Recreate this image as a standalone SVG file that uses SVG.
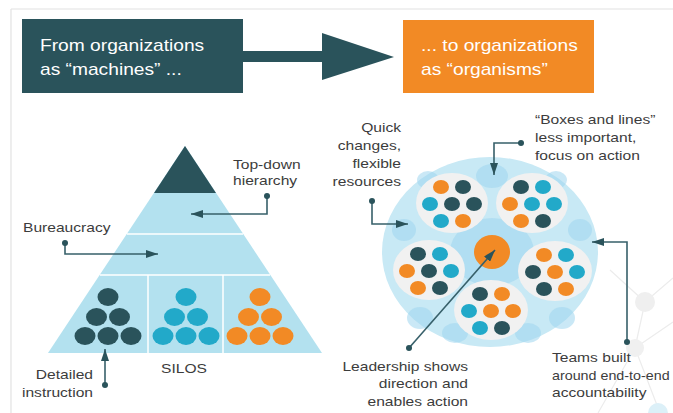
<svg xmlns="http://www.w3.org/2000/svg" width="673" height="413" viewBox="0 0 673 413">
<defs>
<style>
.lbl{font-family:"Liberation Sans",Arial,sans-serif;font-size:13px;fill:#3c3c3c}
.ban{font-family:"Liberation Sans",Arial,sans-serif;font-size:16px;fill:#ffffff}
.con{fill:none;stroke:#37606a;stroke-width:1.6}
.dot{fill:#2a535b}
.dk{fill:#2a535b}
.cy{fill:#22a9c9}
.or{fill:#f28a25}
.disc{fill:#f1f1f1}
.blob{fill:#9fd6ef;opacity:0.55}
.net{stroke:#ececec;stroke-width:1.2;fill:none}
</style>
<marker id="ah" viewBox="0 0 12 8" refX="12" refY="4" markerWidth="12" markerHeight="8" markerUnits="userSpaceOnUse" orient="auto">
<path d="M0,0 L12,4 L0,8 Z" fill="#2a535b"/>
</marker>
</defs>
<rect width="673" height="413" fill="#ffffff"/>
<g id="frame">
<line x1="11" y1="9" x2="673" y2="9" stroke="#e2e2e2" stroke-width="1.2"/>
<line x1="11" y1="9" x2="11" y2="413" stroke="#e2e2e2" stroke-width="1.2"/>
</g>
<g id="network-bg">
<path class="net" d="M645,302 L673,278 M645,302 L635,348 M635,348 L598,413 M635,348 L673,322 M635,348 L660,413 M645,302 L610,270"/>
<circle cx="645" cy="302" r="10" fill="#efefef"/>
<circle cx="635" cy="348" r="9" fill="#f0f0f0"/>
<circle cx="658" cy="413" r="10" fill="#dcf0f8"/>
</g>
<g id="from-box">
<rect x="22" y="19" width="221" height="74" fill="#2a535b"/>
<g transform="translate(40,51) scale(1.2,1)"><text class="ban"><tspan x="0" y="0">From organizations</tspan><tspan x="0" y="24">as “machines” ...</tspan></text></g>
</g>
<g id="transition-arrow">
<polygon points="243,51 322,51 322,33 394,57 322,80 322,62 243,62" fill="#2a535b"/>
</g>
<g id="to-box">
<rect x="403" y="20" width="191" height="73" fill="#f28a25"/>
<g transform="translate(421,51) scale(1.2,1)"><text class="ban"><tspan x="0" y="0">... to organizations</tspan><tspan x="0" y="24">as “organisms”</tspan></text></g>
</g>
<g id="pyramid">
<polygon points="185,146 322,353 48,353" fill="#b3e1ef"/>
<polygon points="185,146 216,193 154,193" fill="#2a535b"/>
<g stroke="#ffffff" stroke-width="1.5">
<line x1="127" y1="234" x2="243" y2="234"/>
<line x1="100" y1="275" x2="270" y2="275"/>
<line x1="148" y1="275" x2="148" y2="353"/>
<line x1="223" y1="275" x2="223" y2="353"/>
</g>
</g>
<g id="silo-dark">
<ellipse class="dk" cx="108" cy="297" rx="10.5" ry="9"/>
<ellipse class="dk" cx="96.5" cy="317" rx="10.5" ry="9"/>
<ellipse class="dk" cx="119.5" cy="317" rx="10.5" ry="9"/>
<ellipse class="dk" cx="85" cy="336" rx="10.5" ry="9"/>
<ellipse class="dk" cx="108" cy="336" rx="10.5" ry="9"/>
<ellipse class="dk" cx="131" cy="336" rx="10.5" ry="9"/>
</g>
<g id="silo-cyan">
<ellipse class="cy" cx="186" cy="297" rx="10.5" ry="9"/>
<ellipse class="cy" cx="174.5" cy="317" rx="10.5" ry="9"/>
<ellipse class="cy" cx="197.5" cy="317" rx="10.5" ry="9"/>
<ellipse class="cy" cx="163" cy="336" rx="10.5" ry="9"/>
<ellipse class="cy" cx="186" cy="336" rx="10.5" ry="9"/>
<ellipse class="cy" cx="209" cy="336" rx="10.5" ry="9"/>
</g>
<g id="silo-orange">
<ellipse class="or" cx="260" cy="297" rx="10.5" ry="9"/>
<ellipse class="or" cx="248.5" cy="317" rx="10.5" ry="9"/>
<ellipse class="or" cx="271.5" cy="317" rx="10.5" ry="9"/>
<ellipse class="or" cx="237" cy="336" rx="10.5" ry="9"/>
<ellipse class="or" cx="260" cy="336" rx="10.5" ry="9"/>
<ellipse class="or" cx="283" cy="336" rx="10.5" ry="9"/>
</g>
<g id="organism">
<ellipse cx="490" cy="252" rx="108" ry="95" fill="#c8e9f5"/>
<ellipse class="blob" cx="492" cy="176" rx="16" ry="12"/>
<ellipse class="blob" cx="404" cy="230" rx="12" ry="11"/>
<ellipse class="blob" cx="580" cy="230" rx="12" ry="11"/>
<ellipse class="blob" cx="420" cy="318" rx="13" ry="11"/>
<ellipse class="blob" cx="562" cy="318" rx="13" ry="11"/>
<ellipse class="blob" cx="455" cy="333" rx="13" ry="10"/>
<ellipse class="blob" cx="528" cy="333" rx="13" ry="10"/>
<ellipse class="blob" cx="492" cy="252" rx="42" ry="34"/>
<ellipse class="blob" cx="428" cy="180" rx="11" ry="9"/>
<ellipse class="blob" cx="556" cy="180" rx="11" ry="9"/>
</g>
<g id="team-top-left">
<ellipse class="disc" cx="452" cy="203" rx="36" ry="30"/>
<ellipse class="or" cx="441" cy="187" rx="8" ry="7"/>
<ellipse class="dk" cx="463" cy="187" rx="8" ry="7"/>
<ellipse class="cy" cx="430" cy="204" rx="8" ry="7"/>
<ellipse class="dk" cx="452" cy="204" rx="8" ry="7"/>
<ellipse class="dk" cx="474" cy="204" rx="8" ry="7"/>
<ellipse class="cy" cx="441" cy="221" rx="8" ry="7"/>
<ellipse class="or" cx="463" cy="221" rx="8" ry="7"/>
</g>
<g id="team-top-right">
<ellipse class="disc" cx="532" cy="203" rx="36" ry="30"/>
<ellipse class="dk" cx="521" cy="187" rx="8" ry="7"/>
<ellipse class="cy" cx="543" cy="187" rx="8" ry="7"/>
<ellipse class="or" cx="510" cy="204" rx="8" ry="7"/>
<ellipse class="cy" cx="532" cy="204" rx="8" ry="7"/>
<ellipse class="cy" cx="554" cy="204" rx="8" ry="7"/>
<ellipse class="or" cx="521" cy="221" rx="8" ry="7"/>
<ellipse class="dk" cx="543" cy="221" rx="8" ry="7"/>
</g>
<g id="team-left">
<ellipse class="disc" cx="429" cy="270" rx="36" ry="30"/>
<ellipse class="dk" cx="418" cy="254" rx="8" ry="7"/>
<ellipse class="cy" cx="440" cy="254" rx="8" ry="7"/>
<ellipse class="or" cx="407" cy="271" rx="8" ry="7"/>
<ellipse class="dk" cx="429" cy="271" rx="8" ry="7"/>
<ellipse class="cy" cx="451" cy="271" rx="8" ry="7"/>
<ellipse class="or" cx="418" cy="288" rx="8" ry="7"/>
<ellipse class="dk" cx="440" cy="288" rx="8" ry="7"/>
</g>
<g id="team-right">
<ellipse class="disc" cx="555" cy="271" rx="37" ry="30"/>
<ellipse class="or" cx="544" cy="255" rx="8" ry="7"/>
<ellipse class="cy" cx="566" cy="255" rx="8" ry="7"/>
<ellipse class="dk" cx="533" cy="272" rx="8" ry="7"/>
<ellipse class="or" cx="555" cy="272" rx="8" ry="7"/>
<ellipse class="cy" cx="577" cy="272" rx="8" ry="7"/>
<ellipse class="dk" cx="544" cy="289" rx="8" ry="7"/>
<ellipse class="or" cx="566" cy="289" rx="8" ry="7"/>
</g>
<g id="team-bottom">
<ellipse class="disc" cx="491" cy="310" rx="37" ry="30"/>
<ellipse class="dk" cx="480" cy="294" rx="8" ry="7"/>
<ellipse class="or" cx="502" cy="294" rx="8" ry="7"/>
<ellipse class="cy" cx="469" cy="311" rx="8" ry="7"/>
<ellipse class="or" cx="491" cy="311" rx="8" ry="7"/>
<ellipse class="or" cx="513" cy="311" rx="8" ry="7"/>
<ellipse class="cy" cx="480" cy="328" rx="8" ry="7"/>
<ellipse class="dk" cx="502" cy="328" rx="8" ry="7"/>
</g>
<g id="leader">
<ellipse class="or" cx="492" cy="252" rx="18" ry="17"/>
</g>
<g id="labels">
<g transform="translate(233,169) scale(1.2,1)"><text class="lbl"><tspan x="0" y="0">Top-down</tspan><tspan x="0" y="16">hierarchy</tspan></text></g>
<g transform="translate(23,232) scale(1.2,1)"><text class="lbl">Bureaucracy</text></g>
<g transform="translate(93,379) scale(1.2,1)"><text class="lbl" text-anchor="end"><tspan x="0" y="0">Detailed</tspan><tspan x="0" y="18">instruction</tspan></text></g>
<g transform="translate(184,373) scale(1.2,1)"><text class="lbl" text-anchor="middle">SILOS</text></g>
<g transform="translate(401,132) scale(1.2,1)"><text class="lbl" text-anchor="end"><tspan x="0" y="0">Quick</tspan><tspan x="0" y="18">changes,</tspan><tspan x="0" y="36">flexible</tspan><tspan x="0" y="54">resources</tspan></text></g>
<g transform="translate(535,124) scale(1.2,1)"><text class="lbl"><tspan x="0" y="0">“Boxes and lines”</tspan><tspan x="0" y="18">less important,</tspan><tspan x="0" y="36">focus on action</tspan></text></g>
<g transform="translate(468,371) scale(1.2,1)"><text class="lbl" text-anchor="end"><tspan x="0" y="0">Leadership shows</tspan><tspan x="0" y="17.5">direction and</tspan><tspan x="0" y="35">enables action</tspan></text></g>
<g transform="translate(552,362) scale(1.2,1)"><text class="lbl"><tspan x="0" y="0">Teams built</tspan><tspan x="0" y="35">accountability</tspan></text></g>
<g transform="translate(552,379.5) scale(1.1,1)"><text class="lbl">around end-to-end</text></g>
</g>
<g id="connectors">
<path class="con" d="M267,196 V214 H191" marker-end="url(#ah)"/>
<path class="con" d="M65,243 V254 H158" marker-end="url(#ah)"/>
<path class="con" d="M105,385 V349" marker-end="url(#ah)"/>
<path class="con" d="M372,201 V224 H408" marker-end="url(#ah)"/>
<path class="con" d="M521,143 H494 V175" marker-end="url(#ah)"/>
<path class="con" d="M409,348 L495,250" marker-end="url(#ah)"/>
<path class="con" d="M627,342 V242 H592" marker-end="url(#ah)"/>
<circle class="dot" cx="267" cy="196" r="3"/>
<circle class="dot" cx="65" cy="243" r="3"/>
<circle class="dot" cx="105" cy="385" r="3"/>
<circle class="dot" cx="372" cy="201" r="3"/>
<circle class="dot" cx="521" cy="143" r="3"/>
<circle class="dot" cx="409" cy="348" r="3"/>
<circle class="dot" cx="627" cy="342" r="3"/>
</g>
</svg>
